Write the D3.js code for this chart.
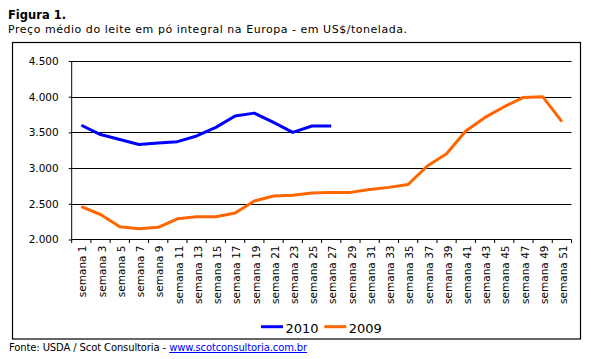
<!DOCTYPE html>
<html>
<head>
<meta charset="utf-8">
<script src="https://cdn.jsdelivr.net/npm/d3@7"></script>
<style>
  html, body { margin: 0; padding: 0; background: #fff; }
  svg { display: block; }
</style>
</head>
<body>
<svg id="chart" width="591" height="359"></svg>
<script>
// ---- Data ----
const weeks = ["semana 1","semana 3","semana 5","semana 7","semana 9","semana 11","semana 13",
  "semana 15","semana 17","semana 19","semana 21","semana 23","semana 25","semana 27","semana 29",
  "semana 31","semana 33","semana 35","semana 37","semana 39","semana 41","semana 43","semana 45",
  "semana 47","semana 49","semana 51"];
const series2010 = [3600,3470,3400,3330,3350,3370,3450,3570,3730,3770,3640,3500,3590,3590];
const series2009 = [2460,2350,2180,2150,2170,2290,2320,2320,2370,2540,2610,2620,2650,2660,2660,
  2700,2730,2770,3030,3200,3520,3710,3860,3990,4000,3650];
const yTicks = [2000,2500,3000,3500,4000,4500];
const seriesNames = ["2010","2009"];
const seriesColors = ["#0000FF","#FF6600"];

// ---- Drawing ----
const svg = d3.select("#chart");
const font = "'DejaVu Sans', Verdana, sans-serif";

const plot = {left: 71.7, right: 571.5, top: 61, bottom: 239.5};

const x = d3.scaleBand().domain(weeks).range([plot.left, plot.right]).padding(0);
const y = d3.scaleLinear().domain([2000, 4500]).range([plot.bottom, plot.top]);

// Title
svg.append("text").attr("x", 8).attr("y", 19)
  .attr("font-family", font).attr("font-weight", "bold").attr("font-size", "11.5px")
  .attr("fill", "#000").text("Figura 1.");
svg.append("text").attr("x", 8).attr("y", 32.5)
  .attr("font-family", font).attr("font-size", "11px").attr("letter-spacing", "0.53px")
  .attr("fill", "#000")
  .text("Preço médio do leite em pó integral na Europa - em US$/tonelada.");

// Chart border
svg.append("rect").attr("x", 12.5).attr("y", 42.5).attr("width", 568).attr("height", 296.5)
  .attr("fill", "none").attr("stroke", "#000").attr("stroke-width", 1.2);

// Gridlines
svg.append("g").selectAll("line").data(yTicks.filter(d => d > 2000)).join("line")
  .attr("x1", plot.left).attr("x2", plot.right)
  .attr("y1", d => Math.round(y(d)) + 0.5).attr("y2", d => Math.round(y(d)) + 0.5)
  .attr("stroke", "#000").attr("stroke-width", 1);

// Y axis
const yAxis = d3.axisLeft(y).tickValues(yTicks).tickSize(3).tickPadding(10)
  .tickFormat(d => d3.format(",.0f")(d).replace(",", "."));
const gy = svg.append("g").attr("transform", `translate(${plot.left},0)`).call(yAxis);
gy.select(".domain").remove();
gy.append("line").attr("x1", 0).attr("x2", 0).attr("y1", plot.top).attr("y2", plot.bottom)
  .attr("stroke", "#000");
gy.selectAll(".tick line").attr("stroke", "#000");
gy.selectAll(".tick text").attr("font-family", font).attr("font-size", "10.5px").attr("fill", "#000");

// X axis
const gx = svg.append("g").attr("transform", `translate(0,${plot.bottom})`);
gx.append("line").attr("x1", plot.left).attr("x2", plot.right).attr("y1", 0).attr("y2", 0)
  .attr("stroke", "#000");
const bounds = weeks.map(w => x(w)).concat([plot.right]);
gx.selectAll("line.tk").data(bounds).join("line").attr("class", "tk")
  .attr("x1", d => d).attr("x2", d => d).attr("y1", 0).attr("y2", 3.5)
  .attr("stroke", "#000");
gx.selectAll("text").data(weeks).join("text")
  .attr("transform", d => `translate(${x(d) + x.bandwidth() / 2 + 1.5},6) rotate(-90)`)
  .attr("text-anchor", "end").attr("dy", "0.35em")
  .attr("font-family", font).attr("font-size", "10.5px").attr("fill", "#000")
  .text(d => d);

// Lines
const line = d3.line()
  .x((d, i) => x(weeks[i]) + x.bandwidth() / 2)
  .y(d => y(d));
[series2010, series2009].forEach((s, i) => {
  svg.append("path").datum(s).attr("d", line)
    .attr("fill", "none").attr("stroke", seriesColors[i]).attr("stroke-width", 3)
    .attr("stroke-linejoin", "round");
});

// Legend
const leg = svg.append("g");
const legX = [261, 324.3];
seriesNames.forEach((n, i) => {
  leg.append("line").attr("x1", legX[i]).attr("x2", legX[i] + 22)
    .attr("y1", 326.7).attr("y2", 326.7)
    .attr("stroke", seriesColors[i]).attr("stroke-width", 3);
  leg.append("text").attr("x", legX[i] + 24.5).attr("y", 332.7)
    .attr("font-family", font).attr("font-size", "13px").attr("fill", "#000").text(n);
});

// Footer
const ft = svg.append("text").attr("x", 9).attr("y", 351)
  .attr("font-family", font).attr("font-size", "10px").attr("letter-spacing", "-0.12px")
  .attr("fill", "#000");
ft.append("tspan").text("Fonte: USDA / Scot Consultoria - ");
ft.append("tspan").attr("fill", "#0000FF").attr("text-decoration", "underline")
  .text("www.scotconsultoria.com.br");
</script>
</body>
</html>
